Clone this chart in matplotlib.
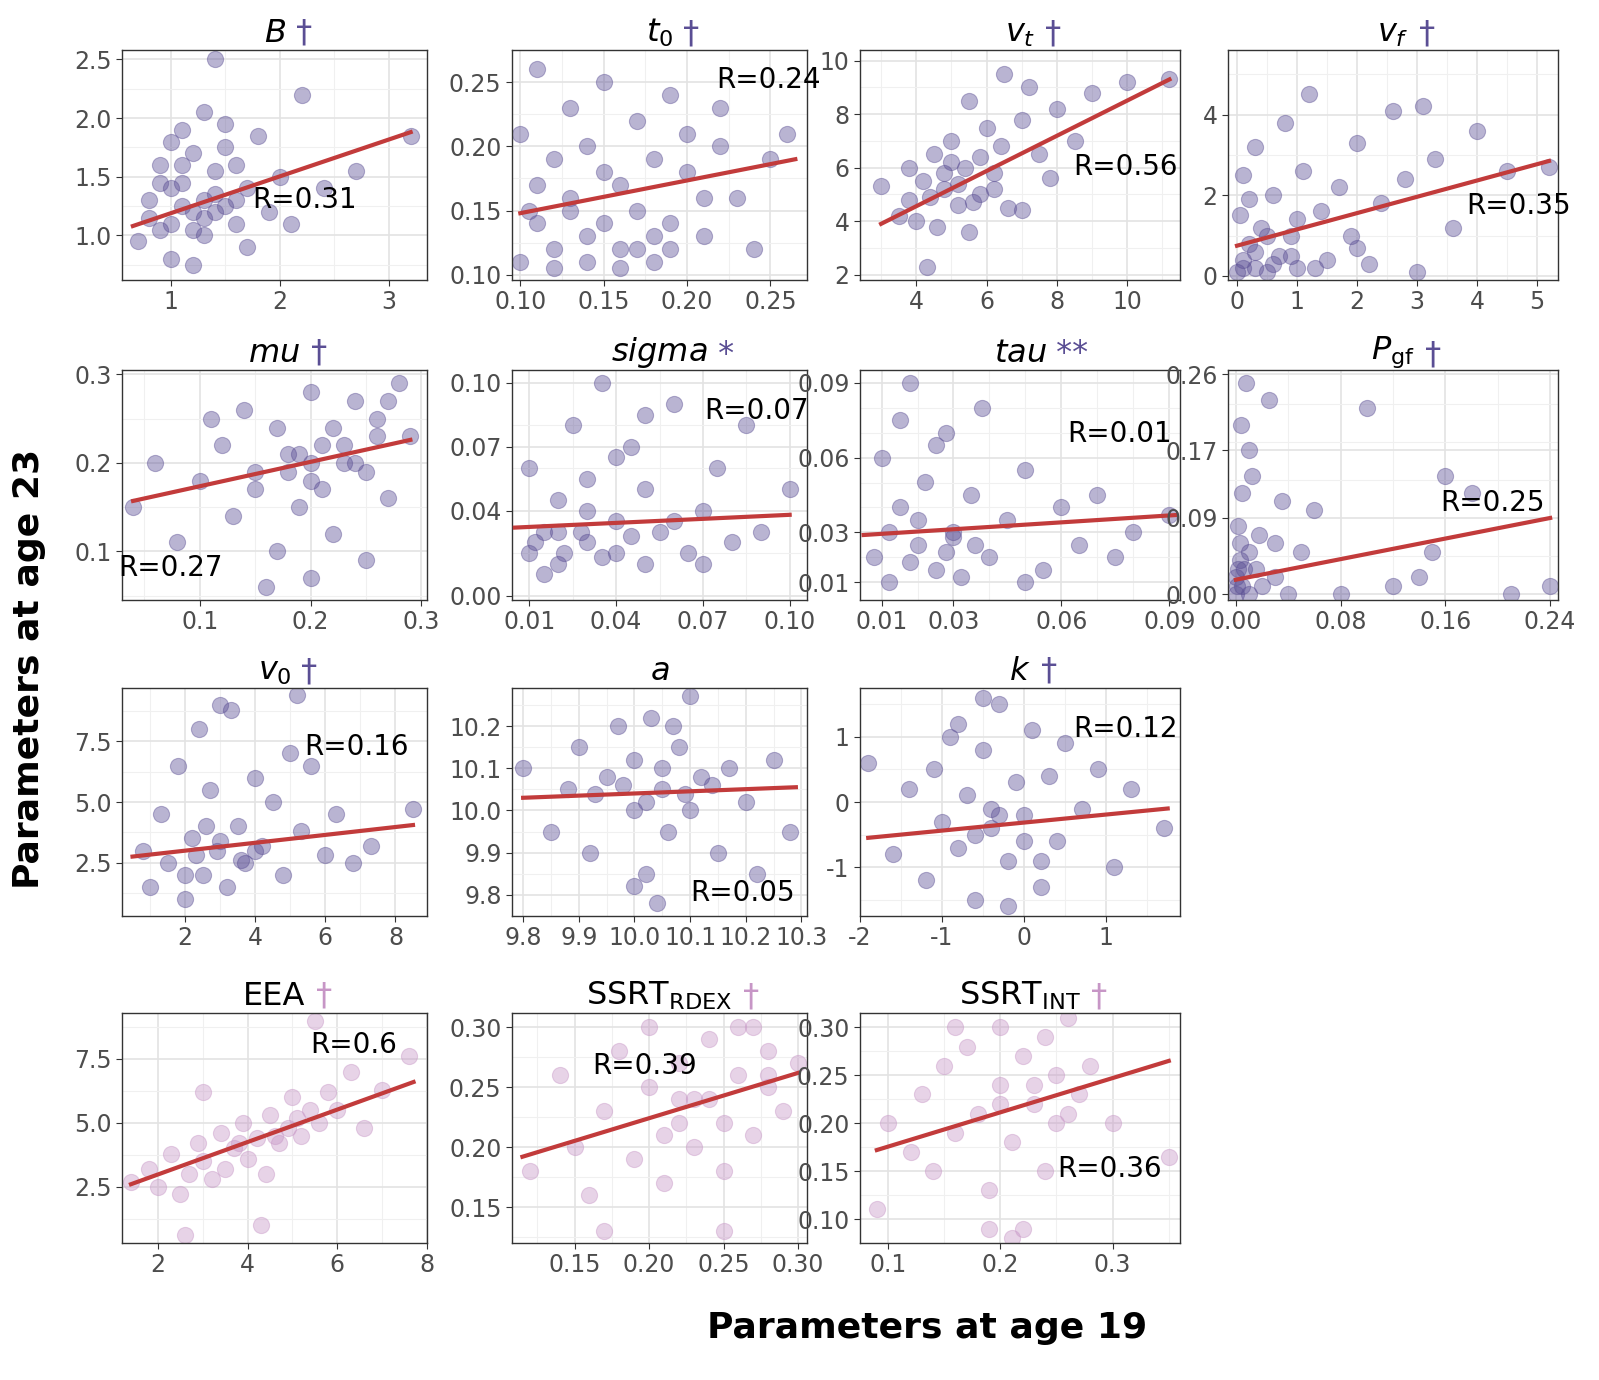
import matplotlib
matplotlib.use("Agg")
import matplotlib.pyplot as plt
from matplotlib.ticker import AutoMinorLocator

DARK = "#5a4e94"
LIGHT = "#c796c6"

# ---- data (approximate) ----
B_x = [0.7,0.8,0.9,1.0,1.0,1.1,1.1,1.2,1.2,1.3,1.3,1.4,1.4,1.5,1.5,1.6,1.6,1.7,1.8,1.9,2.0,2.1,2.2,2.4,2.7,3.2,0.9,1.2,1.4,1.0,1.3,1.7,1.1,1.5,0.8,1.0,1.2,1.4,1.6,1.1,0.9,1.3]
B_y = [0.95,1.3,1.6,1.1,0.8,1.45,1.9,1.2,1.7,1.0,2.05,1.35,1.55,1.25,1.95,1.1,1.6,1.4,1.85,1.2,1.5,1.1,2.2,1.4,1.55,1.85,1.05,0.75,2.5,1.8,1.3,0.9,1.25,1.75,1.15,1.4,1.05,1.2,1.3,1.6,1.45,1.15]
t0_x = [0.10,0.10,0.11,0.11,0.12,0.12,0.13,0.13,0.14,0.14,0.15,0.15,0.16,0.16,0.17,0.17,0.18,0.18,0.19,0.19,0.20,0.20,0.21,0.22,0.23,0.24,0.25,0.26,0.11,0.15,0.18,0.22,0.13,0.17,0.12,0.14,0.16,0.19,0.21,0.105]
t0_y = [0.11,0.21,0.14,0.26,0.12,0.19,0.16,0.23,0.11,0.20,0.14,0.25,0.17,0.12,0.22,0.15,0.19,0.11,0.24,0.14,0.18,0.21,0.13,0.20,0.16,0.12,0.19,0.21,0.17,0.18,0.13,0.23,0.15,0.12,0.105,0.13,0.105,0.12,0.16,0.15]
vt_x = [3.0,3.5,3.8,4.0,4.2,4.5,4.6,4.8,5.0,5.2,5.4,5.5,5.8,6.0,6.2,6.4,6.6,7.0,7.2,7.5,7.8,8.0,8.5,9.0,10.0,11.2,4.3,5.5,6.5,5.0,7.0,3.8,4.4,5.2,5.8,6.2,4.8,5.6]
vt_y = [5.3,4.2,4.8,4.0,5.5,6.5,3.8,5.2,7.0,4.6,6.0,8.5,5.0,7.5,5.8,6.8,4.5,7.8,9.0,6.5,5.6,8.2,7.0,8.8,9.2,9.3,2.3,3.6,9.5,6.2,4.4,6.0,4.9,5.4,6.4,5.2,5.8,4.7]
vf_x = [0.0,0.05,0.1,0.1,0.2,0.3,0.3,0.4,0.5,0.6,0.7,0.8,0.9,1.0,1.1,1.2,1.4,1.5,1.7,1.9,2.0,2.2,2.4,2.6,2.8,3.0,3.3,3.6,4.0,4.5,5.2,0.5,1.0,2.0,0.2,3.1,0.1,0.3,0.6,0.9,1.3]
vf_y = [0.1,1.5,0.4,2.5,0.8,0.2,3.2,1.2,0.1,2.0,0.5,3.8,1.0,0.2,2.6,4.5,1.6,0.4,2.2,1.0,3.3,0.3,1.8,4.1,2.4,0.1,2.9,1.2,3.6,2.6,2.7,1.0,1.4,0.7,1.9,4.2,0.2,0.6,0.3,0.5,0.2]
mu_x = [0.04,0.06,0.08,0.1,0.12,0.13,0.14,0.15,0.16,0.17,0.18,0.19,0.2,0.2,0.21,0.22,0.22,0.23,0.24,0.25,0.26,0.27,0.28,0.29,0.17,0.2,0.24,0.11,0.15,0.19,0.25,0.27,0.18,0.21,0.23,0.2,0.26]
mu_y = [0.15,0.2,0.11,0.18,0.22,0.14,0.26,0.19,0.06,0.24,0.21,0.15,0.28,0.2,0.17,0.24,0.12,0.22,0.27,0.19,0.25,0.16,0.29,0.23,0.1,0.07,0.2,0.25,0.17,0.21,0.09,0.27,0.19,0.22,0.2,0.18,0.23]
sg_x = [0.01,0.01,0.015,0.02,0.02,0.025,0.03,0.03,0.035,0.04,0.04,0.045,0.05,0.05,0.055,0.06,0.065,0.07,0.075,0.08,0.085,0.09,0.1,0.02,0.03,0.05,0.06,0.015,0.04,0.07,0.012,0.022,0.028,0.035,0.045]
sg_y = [0.02,0.06,0.03,0.015,0.045,0.08,0.025,0.055,0.1,0.02,0.035,0.07,0.015,0.05,0.03,0.09,0.02,0.04,0.06,0.025,0.08,0.03,0.05,0.03,0.04,0.085,0.035,0.01,0.065,0.015,0.025,0.02,0.03,0.018,0.028]
tau_x = [0.008,0.01,0.012,0.015,0.018,0.02,0.022,0.025,0.028,0.03,0.032,0.035,0.038,0.04,0.045,0.05,0.055,0.06,0.065,0.07,0.075,0.08,0.09,0.02,0.03,0.015,0.05,0.025,0.012,0.018,0.028,0.036]
tau_y = [0.02,0.06,0.01,0.04,0.09,0.025,0.05,0.015,0.07,0.03,0.012,0.045,0.08,0.02,0.035,0.055,0.015,0.04,0.025,0.045,0.02,0.03,0.037,0.035,0.028,0.075,0.01,0.065,0.03,0.018,0.022,0.025]
pg_x = [0.0,0.0,0.002,0.003,0.005,0.005,0.008,0.01,0.01,0.012,0.015,0.018,0.02,0.025,0.03,0.035,0.04,0.05,0.06,0.08,0.1,0.12,0.14,0.16,0.18,0.21,0.24,0.01,0.03,0.004,0.002,0.15,0.001,0.006,0.003]
pg_y = [0.0,0.02,0.08,0.04,0.12,0.01,0.25,0.05,0.0,0.14,0.03,0.07,0.01,0.23,0.02,0.11,0.0,0.05,0.1,0.0,0.22,0.01,0.02,0.14,0.12,0.0,0.01,0.17,0.06,0.2,0.03,0.05,0.01,0.03,0.06]
v0_x = [0.8,1.0,1.3,1.5,1.8,2.0,2.2,2.4,2.5,2.7,2.9,3.0,3.2,3.5,3.7,4.0,4.2,4.5,4.8,5.0,5.3,5.6,6.0,6.3,6.8,7.3,8.5,3.3,2.0,4.0,2.6,5.2,2.3,3.0,3.6]
v0_y = [3.0,1.5,4.5,2.5,6.5,1.0,3.5,8.0,2.0,5.5,3.0,9.0,1.5,4.0,2.5,6.0,3.2,5.0,2.0,7.0,3.8,6.5,2.8,4.5,2.5,3.2,4.7,8.8,2.0,3.0,4.0,9.4,2.8,3.4,2.6]
a_x = [9.8,9.85,9.88,9.9,9.92,9.95,9.97,10.0,10.0,10.02,10.03,10.05,10.06,10.08,10.1,10.1,10.12,10.15,10.17,10.2,10.22,10.25,10.28,9.93,10.04,10.07,10.14,10.0,9.98,10.05,10.09,10.02]
a_y = [10.1,9.95,10.05,10.15,9.9,10.08,10.2,10.0,10.12,9.85,10.22,10.05,9.95,10.15,10.0,10.27,10.08,9.9,10.1,10.02,9.85,10.12,9.95,10.04,9.78,10.2,10.06,9.82,10.06,10.1,10.04,10.02]
k_x = [-1.9,-1.6,-1.4,-1.2,-1.1,-1.0,-0.9,-0.8,-0.7,-0.6,-0.5,-0.4,-0.3,-0.2,-0.1,0.0,0.1,0.2,0.3,0.4,0.5,0.7,0.9,1.1,1.3,1.7,-0.5,-0.2,0.2,-0.8,-0.6,-0.3,0.0,-0.4]
k_y = [0.6,-0.8,0.2,-1.2,0.5,-0.3,1.0,-0.7,0.1,-1.5,0.8,-0.4,1.5,-0.9,0.3,-0.2,1.1,-1.3,0.4,-0.6,0.9,-0.1,0.5,-1.0,0.2,-0.4,1.6,-1.6,-0.9,1.2,-0.5,-0.2,-0.6,-0.1]
eea_x = [1.4,1.8,2.0,2.3,2.5,2.7,2.9,3.0,3.2,3.4,3.5,3.7,3.9,4.0,4.2,4.4,4.5,4.7,4.9,5.0,5.2,5.4,5.6,5.8,6.0,6.3,6.6,7.0,7.6,2.6,4.3,5.5,3.0,3.8,4.6,5.1]
eea_y = [2.7,3.2,2.5,3.8,2.2,3.0,4.2,3.5,2.8,4.6,3.2,4.0,5.0,3.6,4.4,3.0,5.3,4.2,4.8,6.0,4.5,5.5,5.0,6.2,5.5,7.0,4.8,6.3,7.6,0.6,1.0,9.0,6.2,4.2,4.5,5.2]
rd_x = [0.12,0.14,0.15,0.16,0.17,0.18,0.19,0.2,0.2,0.21,0.22,0.22,0.23,0.24,0.24,0.25,0.26,0.26,0.27,0.28,0.28,0.29,0.3,0.17,0.25,0.21,0.27,0.23,0.22,0.25,0.28]
rd_y = [0.18,0.26,0.2,0.16,0.23,0.28,0.19,0.25,0.3,0.17,0.22,0.27,0.2,0.29,0.24,0.18,0.26,0.3,0.21,0.25,0.28,0.23,0.27,0.13,0.13,0.21,0.3,0.24,0.24,0.22,0.26]
in_x = [0.09,0.1,0.12,0.13,0.14,0.15,0.16,0.17,0.18,0.19,0.2,0.2,0.21,0.22,0.22,0.23,0.24,0.25,0.25,0.26,0.27,0.28,0.3,0.35,0.19,0.21,0.24,0.16,0.2,0.23,0.26]
in_y = [0.11,0.2,0.17,0.23,0.15,0.26,0.19,0.28,0.21,0.13,0.24,0.3,0.18,0.27,0.09,0.22,0.29,0.2,0.25,0.31,0.23,0.26,0.2,0.165,0.09,0.08,0.15,0.3,0.22,0.24,0.21]

# fitted lines (x0, y0, x1, y1) and R
lines = [(0.65,1.08,3.2,1.88),(0.10,0.148,0.265,0.19),(3.0,3.9,11.2,9.3),(0.0,0.75,5.2,2.85),
         (0.04,0.157,0.29,0.226),(0.005,0.032,0.10,0.038),(0.005,0.029,0.092,0.037),(0.0,0.017,0.24,0.09),
         (0.5,2.75,8.5,4.05),(9.8,10.03,10.29,10.055),(-1.9,-0.55,1.75,-0.1),
         (1.4,2.6,7.7,6.6),(0.115,0.192,0.3,0.262),(0.09,0.172,0.35,0.265)]
R_vals = ["R=0.31","R=0.24","R=0.56","R=0.35","R=0.27","R=0.07","R=0.01","R=0.25",
          "R=0.16","R=0.05","R=0.12","R=0.6","R=0.39","R=0.36"]
titles = [r"$B$", r"$t_0$", r"$v_t$", r"$v_f$", r"$mu$", r"$sigma$", r"$tau$", r"$P_{\mathrm{gf}}$",
          r"$v_0$", r"$a$", r"$k$", "EEA", r"SSRT$_{\mathrm{RDEX}}$", r"SSRT$_{\mathrm{INT}}$"]
marks = ["†","†","†","†","†","*","**","†","†","","†","†","†","†"]
xs = [B_x,t0_x,vt_x,vf_x,mu_x,sg_x,tau_x,pg_x,v0_x,a_x,k_x,eea_x,rd_x,in_x]
ys = [B_y,t0_y,vt_y,vf_y,mu_y,sg_y,tau_y,pg_y,v0_y,a_y,k_y,eea_y,rd_y,in_y]

# layout / styling
W, H = 1599, 1380
boxes = [(122,50,305,230),(512,50,295,230),(860,50,320,230),(1228,50,330,230),
         (122,370,305,230),(512,370,295,230),(860,370,320,230),(1228,370,330,230),
         (122,688,305,228),(512,688,295,228),(860,688,320,228),
         (122,1013,305,230),(512,1013,295,230),(860,1013,320,230)]
xlims = [(0.55,3.35),(0.095,0.272),(2.4,11.5),(-0.15,5.35),(0.03,0.305),(0.004,0.106),(0.004,0.093),(-0.006,0.246),
         (0.2,8.9),(9.78,10.31),(-2.0,1.9),(1.2,8.0),(0.108,0.306),(0.075,0.36)]
ylims = [(0.62,2.58),(0.096,0.275),(1.8,10.4),(-0.1,5.6),(0.045,0.305),(-0.002,0.106),(0.003,0.095),(-0.007,0.265),
         (0.3,9.7),(9.75,10.29),(-1.75,1.75),(0.3,9.3),(0.12,0.312),(0.075,0.315)]
xticks = [[1,2,3],[0.10,0.15,0.20,0.25],[4,6,8,10],[0,1,2,3,4,5],[0.1,0.2,0.3],[0.01,0.04,0.07,0.10],
          [0.01,0.03,0.06,0.09],[0,0.08,0.16,0.24],[2,4,6,8],[9.8,9.9,10.0,10.1,10.2,10.3],[-2,-1,0,1],
          [2,4,6,8],[0.15,0.20,0.25,0.30],[0.1,0.2,0.3]]
xfmt = ["{:g}","{:.2f}","{:g}","{:g}","{:g}","{:.2f}","{:.2f}","{:.2f}","{:g}","{:.1f}","{:g}","{:g}","{:.2f}","{:g}"]
yticks = [[1.0,1.5,2.0,2.5],[0.10,0.15,0.20,0.25],[2,4,6,8,10],[0,2,4],[0.1,0.2,0.3],[0.0,0.04,0.07,0.10],
          [0.01,0.03,0.06,0.09],[0,0.09,0.17,0.26],[2.5,5.0,7.5],[9.8,9.9,10.0,10.1,10.2],[-1,0,1],
          [2.5,5.0,7.5],[0.15,0.20,0.25,0.30],[0.10,0.15,0.20,0.25,0.30]]
yfmt = ["{:.1f}","{:.2f}","{:g}","{:g}","{:g}","{:.2f}","{:.2f}","{:.2f}","{:.1f}","{:.1f}","{:g}","{:.1f}","{:.2f}","{:.2f}"]
rpos = [(0.6,0.35),(0.87,0.87),(0.83,0.49),(0.88,0.32),(0.16,0.14),(0.83,0.82),(0.81,0.72),(0.8,0.42),
        (0.77,0.74),(0.78,0.1),(0.83,0.82),(0.76,0.86),(0.45,0.77),(0.78,0.32)]

fig = plt.figure(figsize=(W/100, H/100), dpi=100)
for i in range(14):
    l, t, w, h = boxes[i]
    ax = fig.add_axes([l/W, 1-(t+h)/H, w/W, h/H])
    col = LIGHT if i >= 11 else DARK
    ax.scatter(xs[i], ys[i], s=135, color=col, alpha=0.42, edgecolors=col, linewidths=0.8, zorder=2)
    x0, y0, x1, y1 = lines[i]
    ax.plot([x0, x1], [y0, y1], color="#c23b3b", lw=3, zorder=3)
    ax.set_xlim(*xlims[i]); ax.set_ylim(*ylims[i])
    ax.set_xticks(xticks[i]); ax.set_xticklabels([xfmt[i].format(v) for v in xticks[i]])
    ax.set_yticks(yticks[i]); ax.set_yticklabels([yfmt[i].format(v) for v in yticks[i]])
    ax.xaxis.set_minor_locator(AutoMinorLocator(2)); ax.yaxis.set_minor_locator(AutoMinorLocator(2))
    ax.grid(True, which="major", color="#e3e3e3", lw=1.2, zorder=0)
    ax.grid(True, which="minor", color="#f0f0f0", lw=0.8, zorder=0)
    ax.set_axisbelow(True)
    ax.tick_params(which="major", labelsize=17, labelcolor="#4d4d4d", color="#333333", length=4)
    ax.tick_params(which="minor", length=0)
    for s in ax.spines.values():
        s.set_color("#333333"); s.set_linewidth(1.0)
    ax.text(rpos[i][0], rpos[i][1], R_vals[i], transform=ax.transAxes, ha="center", va="center",
            fontsize=20, color="black", zorder=4)
    tt = ax.set_title(titles[i], fontsize=23, pad=6)
    if marks[i]:
        ax.annotate(" " + marks[i], xy=(1, 0), xycoords=tt, va="bottom", ha="left", fontsize=23,
                    color=(LIGHT if i >= 11 else DARK))

fig.text(0.018, 0.515, "Parameters at age 23", rotation=90, ha="center", va="center",
         fontsize=26, fontweight="bold")
fig.text(0.58, 0.038, "Parameters at age 19", ha="center", va="center", fontsize=26, fontweight="bold")
fig.savefig("out.png", dpi=100)
